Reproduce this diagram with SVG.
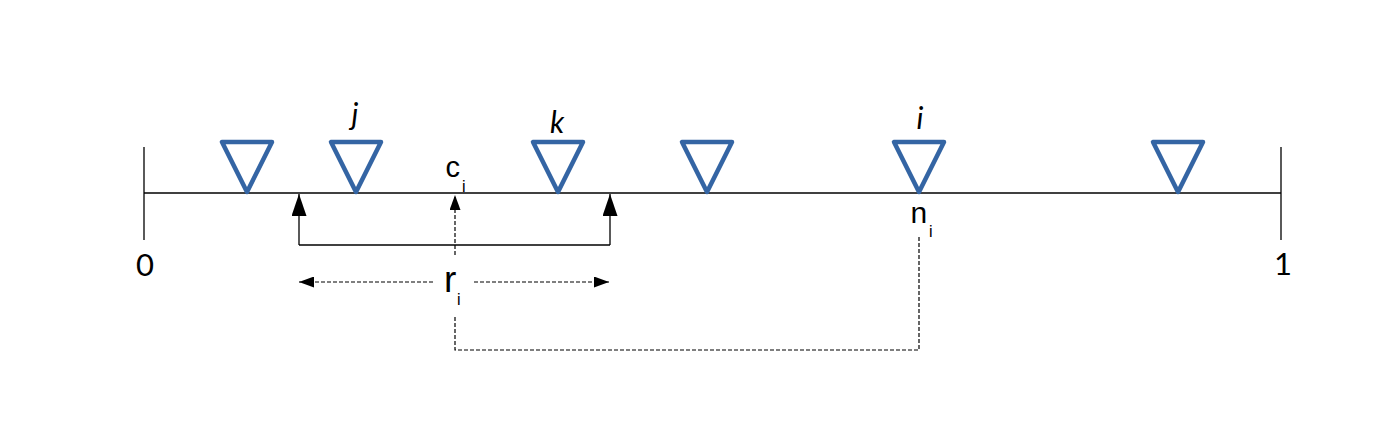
<svg xmlns="http://www.w3.org/2000/svg" width="1379" height="426" viewBox="0 0 1379 426">
<defs>
<style>
.axis{stroke:#000;stroke-width:1.3;fill:none}
.tri{fill:none;stroke:#3465a4;stroke-width:4.5;stroke-linejoin:round}
.solid{stroke:#000;stroke-width:1.3;fill:none}
.dash{stroke:#000;stroke-width:1.2;fill:none;stroke-dasharray:4 2}
.num{font-family:Lato,"Liberation Sans",sans-serif;font-size:31px;fill:#000}
.it{font-family:Lato,"Liberation Sans",sans-serif;font-size:30px;font-style:italic;fill:#000}
.lbl{font-family:"Liberation Sans",Arial,sans-serif;fill:#000}
.sub{font-family:"Liberation Sans",Arial,sans-serif;font-size:16px;fill:#000}
</style>
<marker id="bigArrow" markerUnits="userSpaceOnUse" markerWidth="22" markerHeight="15" refX="22" refY="7.5" orient="auto" viewBox="0 0 22 15">
<path d="M0,0 L22,7.5 L0,15 Z" fill="#000"/>
</marker>
<marker id="smallArrow" markerUnits="userSpaceOnUse" markerWidth="15" markerHeight="11" refX="15" refY="5.5" orient="auto" viewBox="0 0 15 11">
<path d="M0,0 L15,5.5 L0,11 Z" fill="#000"/>
</marker>
</defs>
<rect width="1379" height="426" fill="#fff"/>
<g id="axis">
<line class="axis" x1="144" y1="193" x2="1281" y2="193"/>
<line class="axis" x1="144" y1="147" x2="144" y2="240"/>
<line class="axis" x1="1281" y1="147" x2="1281" y2="240"/>
<text class="num" x="145" y="276" text-anchor="middle">0</text>
<text class="num" x="1283" y="275" text-anchor="middle">1</text>
</g>
<g id="node1"><path class="tri" d="M222,142 L272,142 L247,192 Z"/></g>
<g id="node-j"><path class="tri" d="M331,142 L381,142 L356,192 Z"/><text class="it" x="355" y="125" text-anchor="middle">j</text></g>
<g id="node-k"><path class="tri" d="M533,142 L583,142 L558,192 Z"/><text class="it" x="557" y="133" text-anchor="middle">k</text></g>
<g id="node4"><path class="tri" d="M682,142 L732,142 L707,192 Z"/></g>
<g id="node-i"><path class="tri" d="M894,142 L944,142 L919,192 Z"/><text class="it" x="920" y="129" text-anchor="middle">i</text></g>
<g id="node6"><path class="tri" d="M1153,142 L1203,142 L1178,192 Z"/></g>
<g id="label-ci"><text class="lbl" x="445.5" y="177" font-size="29">c</text><text class="sub" x="462" y="192">i</text></g>
<g id="label-ni"><text class="lbl" x="910.5" y="223" font-size="30">n</text><text class="sub" x="929" y="237">i</text></g>
<g id="label-ri"><text class="lbl" x="444" y="292" font-size="37">r</text><text class="sub" x="457" y="305">i</text></g>
<g id="connectors">
<path class="solid" d="M299,245 L610,245"/>
<path class="solid" d="M299,245 L299,194" marker-end="url(#bigArrow)"/>
<path class="solid" d="M610,245 L610,194" marker-end="url(#bigArrow)"/>
<path class="dash" d="M455,255 L455,195" marker-end="url(#smallArrow)"/>
<path class="dash" d="M433,282 L299,282" marker-end="url(#smallArrow)"/>
<path class="dash" d="M474,282 L609,282" marker-end="url(#smallArrow)"/>
<path class="dash" d="M455,317 L455,350 L919,350 L919,235"/>
</g>
</svg>
